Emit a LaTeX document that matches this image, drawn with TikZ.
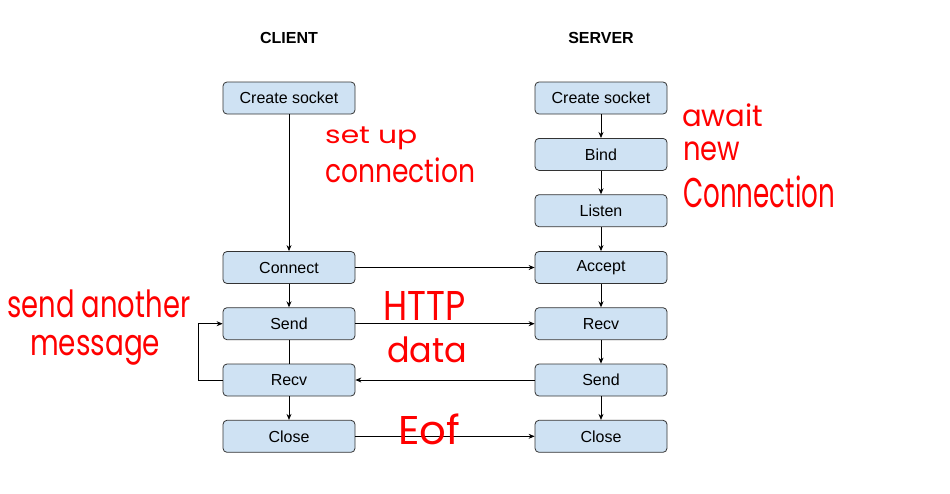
\documentclass[tikz,border=0pt]{standalone}
\usepackage{fontspec}
\setmainfont{Liberation Sans}
\newfontfamily\hwfont{Poppins}
\usetikzlibrary{arrows.meta}
\definecolor{boxblue}{HTML}{CFE2F3}
\definecolor{hwred}{HTML}{FF0000}
\newcommand{\hw}[3]{\resizebox*{#1}{#2}{\hwfont #3}}
\begin{document}
\begin{tikzpicture}[x=1pt,y=-1pt,
  box/.style={draw=black!80, fill=boxblue, rounded corners=4pt, minimum width=132pt, minimum height=32pt, inner sep=0pt, font=\fontsize{16}{18}\selectfont, line width=0.8pt},
  head/.style={font=\fontsize{16}{18}\selectfont\bfseries, inner sep=0pt},
  arr/.style={-{Stealth[length=6pt,width=5pt]}, line width=0.8pt},
  plain/.style={line width=0.8pt},
  hand/.style={anchor=north west, inner sep=0pt, text=hwred}]
\useasboundingbox (0,0) rectangle (950,493);
% headers
\node[head] (hc) at (289,38) {CLIENT};
\node[head] (hs) at (601,38) {SERVER};
% client
\node[box] (ccs) at (289,98) {Create socket};
\node[box] (ccon) at (289,267.5) {Connect};
\node[box] (csend) at (289,323.7) {Send};
\node[box] (crecv) at (289,380) {Recv};
\node[box] (cclose) at (289,436.3) {Close};
% server
\node[box] (scs) at (601,98) {Create socket};
\node[box] (sbind) at (601,154.4) {Bind};
\node[box] (slist) at (601,210.7) {Listen};
\node[box] (sacc) at (601,267.5) {Accept};
\node[box] (srecv) at (601,323.7) {Recv};
\node[box] (ssend) at (601,380) {Send};
\node[box] (sclose) at (601,436.3) {Close};
% client connectors
\draw[arr] (ccs.south) -- (ccon.north);
\draw[arr] (ccon.south) -- (csend.north);
\draw[plain] (csend.south) -- (crecv.north);
\draw[arr] (crecv.south) -- (cclose.north);
\coordinate (lp) at (198,0);
\draw[arr] (crecv.west) -- (crecv.west -| lp) |- (csend.west);
% server connectors
\draw[arr] (scs.south) -- (sbind.north);
\draw[arr] (sbind.south) -- (slist.north);
\draw[arr] (slist.south) -- (sacc.north);
\draw[arr] (sacc.south) -- (srecv.north);
\draw[arr] (srecv.south) -- (ssend.north);
\draw[arr] (ssend.south) -- (sclose.north);
% cross connectors
\draw[arr] (ccon.east) -- (sacc.west);
\draw[arr] (csend.east) -- (srecv.west);
\draw[arr] (ssend.west) -- (crecv.east);
\draw[arr] (cclose.east) -- (sclose.west);
% handwritten notes
\node[hand] (n1) at (325,127) {\hw{92pt}{23pt}{set up}};
\node[hand] (n2) at (325,158) {\hw{150pt}{25pt}{connection}};
\node[hand] (n3) at (682,104) {\hw{81pt}{23pt}{await}};
\node[hand] (n4) at (683,142) {\hw{57pt}{19pt}{new}};
\node[hand] (n5) at (683,176) {\hw{152pt}{32pt}{Connection}};
\node[hand] (n6) at (7,290) {\hw{183pt}{28pt}{send another}};
\node[hand] (n7) at (30,335) {\hw{130pt}{30pt}{message}};
\node[hand] (n8) at (383,291) {\hw{82pt}{29pt}{HTTP}};
\node[hand] (n9) at (387,337) {\hw{80pt}{26pt}{data}};
\node[hand] (n10) at (398,414) {\hw{62pt}{31pt}{Eof}};
\end{tikzpicture}
\end{document}
